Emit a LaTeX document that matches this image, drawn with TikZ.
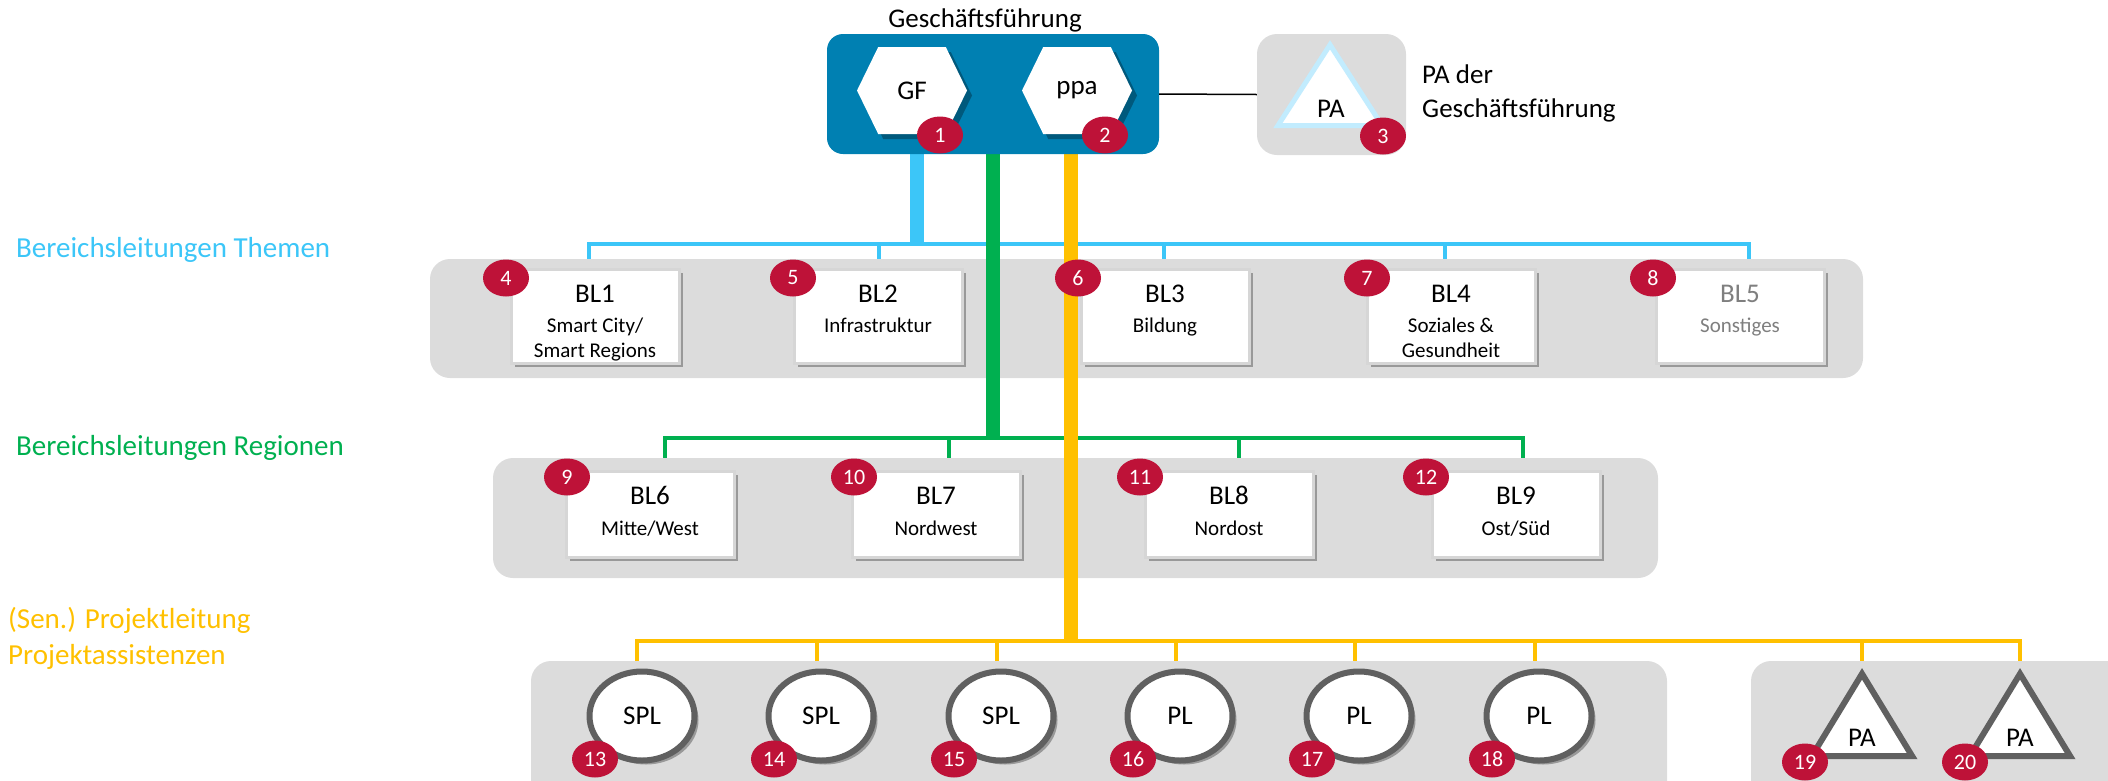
\documentclass[tikz,border=0pt]{standalone}
\usepackage{fontspec}
\setmainfont{Carlito}
\usetikzlibrary{shapes.geometric,shapes.symbols,shadows}
\definecolor{gfblue}{HTML}{0080B2}
\definecolor{cyanc}{HTML}{3CC6F8}
\definecolor{greenc}{HTML}{00B050}
\definecolor{yellowc}{HTML}{FFC000}
\definecolor{badgec}{HTML}{BE1238}
\definecolor{panel}{HTML}{DCDCDC}
\definecolor{ringc}{HTML}{606060}
\definecolor{paline}{HTML}{C2ECFE}
\definecolor{boxline}{HTML}{D6D6D6}
\definecolor{mutedtext}{HTML}{7F7F7F}
\newcommand\fsz[1]{\fontsize{#1}{#1}\selectfont}
\pgfdeclarelayer{under}\pgfdeclarelayer{bg}\pgfdeclarelayer{bars}
\pgfsetlayers{under,bg,bars,main}
\tikzset{
  panelbox/.style={fill=panel, rounded corners=20pt, inner sep=0pt},
  shad/.style={drop shadow={shadow xshift=4pt, shadow yshift=-4pt, opacity=0.3, fill=black}},
  blbox/.style={draw=boxline, line width=3pt, fill=white, minimum width=168pt, inner sep=0pt, shad},
  badge/.style={ellipse, fill=badgec, text=white, minimum width=46pt, minimum height=37pt, inner sep=0pt, font=\fsz{22}},
  hexa/.style={signal, signal to=west and east, signal pointer angle=128, fill=white, minimum width=110pt, minimum height=87pt, inner sep=0pt, font=\fsz{27}, drop shadow={shadow xshift=5pt, shadow yshift=-5pt, opacity=0.3, fill=black}},
  ringnode/.style={ellipse, draw=ringc, line width=6pt, fill=white, minimum width=105pt, minimum height=89pt, inner sep=0pt, font=\fsz{27}, shad},
  ttl/.style={anchor=base, inner sep=0pt, font=\fsz{27}},
  sub/.style={anchor=base, inner sep=0pt, font=\fsz{21}},
  lbl/.style={anchor=base west, inner sep=0pt, font=\fsz{29}},
  plain/.style={anchor=base, inner sep=0pt, font=\fsz{27}},
  tribox/.style={rectangle, inner sep=0pt},
  thin/.style={line width=4pt},
  thick/.style={line width=14pt},
}
\begin{document}
\begin{tikzpicture}[x=1pt,y=-1pt]
\useasboundingbox (0,0) rectangle (2108,780);

% ---------- top: management ----------
\node[plain] (gftitle) at (985,27) {Geschäftsführung};
\node[fill=gfblue, rounded corners=16pt, minimum width=332pt, minimum height=120pt, inner sep=0pt] (gfbox) at (993,94) {};
\node[hexa] (gf) at (912,90.5) {GF};
\node[hexa] (ppa) at (1077,90.5) {ppa};
\node[badge] (b1) at (940,135) {1};
\node[badge] (b2) at (1105,135) {2};

\node[panelbox, minimum width=149pt, minimum height=121pt] (pabox) at (1331.5,94.5) {};
\node[tribox, minimum width=104pt, minimum height=80.5pt] (patri) at (1330,85.25) {};
\fill[black, opacity=0.3, shift={(4,4)}] (patri.north) -- (patri.south east) -- (patri.south west) -- cycle;
\draw[paline, line width=5pt, fill=white] (patri.north) -- (patri.south east) -- (patri.south west) -- cycle;
\node[plain] (patxt) at (1331,117) {PA};
\node[badge] (b3) at (1383,136) {3};
\node[plain, anchor=base west] (pad1) at (1422,83) {PA der};
\node[plain, anchor=base west] (pad2) at (1422,117) {Geschäftsführung};
\draw[black, line width=1.5pt] (gfbox.east) -- (pabox.west);

% ---------- left labels ----------
\node[lbl, text=cyanc] (lab1) at (16,257) {Bereichsleitungen Themen};
\node[lbl, text=greenc] (lab2) at (16,455) {Bereichsleitungen Regionen};
\node[lbl, text=yellowc] (lab3) at (8,628) {(Sen.) Projektleitung};
\node[lbl, text=yellowc] (lab4) at (8,664) {Projektassistenzen};

% ---------- panels ----------
\begin{pgfonlayer}{bg}
\node[panelbox, minimum width=1433pt, minimum height=119pt] (row1) at (1146.5,318.5) {};
\node[panelbox, minimum width=1165pt, minimum height=120pt] (row2) at (1075.5,518) {};
\node[panelbox, minimum width=1136pt, minimum height=160pt] (row3a) at (1099,741) {};
\node[panelbox, minimum width=400pt, minimum height=160pt] (row3b) at (1951,741) {};
\end{pgfonlayer}

% ---------- row 1: Themen ----------
\node[blbox, minimum height=94pt] (bl1) at (595,316) {};
\node[blbox, minimum height=94pt] (bl2) at (878,316) {};
\node[blbox, minimum height=94pt] (bl3) at (1165,316) {};
\node[blbox, minimum height=94pt] (bl4) at (1451,316) {};
\node[blbox, minimum height=94pt] (bl5) at (1740,316) {};
\node[ttl] (t1) at ([yshift=-35pt]bl1.north) {BL1};
\node[sub] (s1a) at ([yshift=-65pt]bl1.north) {Smart City/};
\node[sub] (s1b) at ([yshift=-90pt]bl1.north) {Smart Regions};
\node[ttl] (t2) at ([yshift=-35pt]bl2.north) {BL2};
\node[sub] (s2a) at ([yshift=-65pt]bl2.north) {Infrastruktur};
\node[ttl] (t3) at ([yshift=-35pt]bl3.north) {BL3};
\node[sub] (s3a) at ([yshift=-65pt]bl3.north) {Bildung};
\node[ttl] (t4) at ([yshift=-35pt]bl4.north) {BL4};
\node[sub] (s4a) at ([yshift=-65pt]bl4.north) {Soziales \&};
\node[sub] (s4b) at ([yshift=-90pt]bl4.north) {Gesundheit};
\node[ttl, text=mutedtext] (t5) at ([yshift=-35pt]bl5.north) {BL5};
\node[sub, text=mutedtext] (s5a) at ([yshift=-65pt]bl5.north) {Sonstiges};
\node[badge] (b4) at (506,278) {4};
\node[badge] (b5) at (793,278) {5};
\node[badge] (b6) at (1078,278) {6};
\node[badge] (b7) at (1367,278) {7};
\node[badge] (b8) at (1653,278) {8};

% ---------- row 2: Regionen ----------
\node[blbox, minimum height=86pt] (bl6) at (650,514) {};
\node[blbox, minimum height=86pt] (bl7) at (936,514) {};
\node[blbox, minimum height=86pt] (bl8) at (1229,514) {};
\node[blbox, minimum height=86pt] (bl9) at (1516,514) {};
\node[ttl] (t6) at ([yshift=-35pt]bl6.north) {BL6};
\node[sub] (s6a) at ([yshift=-66pt]bl6.north) {Mitte/West};
\node[ttl] (t7) at ([yshift=-35pt]bl7.north) {BL7};
\node[sub] (s7a) at ([yshift=-66pt]bl7.north) {Nordwest};
\node[ttl] (t8) at ([yshift=-35pt]bl8.north) {BL8};
\node[sub] (s8a) at ([yshift=-66pt]bl8.north) {Nordost};
\node[ttl] (t9) at ([yshift=-35pt]bl9.north) {BL9};
\node[sub] (s9a) at ([yshift=-66pt]bl9.north) {Ost/Süd};
\node[badge] (b9) at (567,477) {9};
\node[badge] (b10) at (854,477) {10};
\node[badge] (b11) at (1140,477) {11};
\node[badge] (b12) at (1426,477) {12};

% ---------- row 3: project leads ----------
\node[ringnode] (p13) at (642,716) {SPL};
\node[ringnode] (p14) at (821,716) {SPL};
\node[ringnode] (p15) at (1001,716) {SPL};
\node[ringnode] (p16) at (1180,716) {PL};
\node[ringnode] (p17) at (1359,716) {PL};
\node[ringnode] (p18) at (1539,716) {PL};
\node[badge] (b13) at (595,759) {13};
\node[badge] (b14) at (774,759) {14};
\node[badge] (b15) at (954,759) {15};
\node[badge] (b16) at (1133,759) {16};
\node[badge] (b17) at (1312,759) {17};
\node[badge] (b18) at (1492,759) {18};

\node[tribox, minimum width=100pt, minimum height=82pt] (pa19) at (1862,715) {};
\node[tribox, minimum width=100pt, minimum height=82pt] (pa20) at (2020,715) {};
\foreach \t in {pa19,pa20}{
  \fill[black, opacity=0.3, shift={(4,4)}] (\t.north) -- (\t.south east) -- (\t.south west) -- cycle;
  \draw[ringc, line width=6pt, fill=white] (\t.north) -- (\t.south east) -- (\t.south west) -- cycle;
}
\node[plain] (pa19t) at ([yshift=-31pt]pa19.center) {PA};
\node[plain] (pa20t) at ([yshift=-31pt]pa20.center) {PA};
\node[badge] (b19) at (1805,762) {19};
\node[badge] (b20) at (1965,762) {20};

% ---------- connectors ----------
\coordinate (cj) at (917,244);
\coordinate (gj) at (993,438);
\coordinate (yj) at (1071,641);
\begin{pgfonlayer}{bars}
\draw[thick, cyanc] (cj |- gfbox.south) -- (cj);
\draw[thick, greenc] (gj |- gfbox.south) -- (gj);
\draw[thick, yellowc] (yj |- gfbox.south) -- (yj);
\end{pgfonlayer}

\begin{pgfonlayer}{under}
% row 1 bus
\coordinate (c1) at (589,244); \coordinate (c2) at (879,244); \coordinate (c3) at (1164,244);
\coordinate (c4) at (1445,244); \coordinate (c5) at (1749,244);
\draw[thin, cyanc] (c1 |- bl1.north) -- (c1) -- (c5) -- (c5 |- bl5.north);
\draw[thin, cyanc] (c2) -- (c2 |- bl2.north);
\draw[thin, cyanc] (c3) -- (c3 |- bl3.north);
\draw[thin, cyanc] (c4) -- (c4 |- bl4.north);
% row 2 bus
\coordinate (g1) at (665,438); \coordinate (g2) at (949,438);
\coordinate (g3) at (1239,438); \coordinate (g4) at (1523,438);
\draw[thin, greenc] (g1 |- bl6.north) -- (g1) -- (g4) -- (g4 |- bl9.north);
\draw[thin, greenc] (g2) -- (g2 |- bl7.north);
\draw[thin, greenc] (g3) -- (g3 |- bl8.north);
% row 3 bus
\coordinate (y1) at (637,641); \coordinate (y2) at (817,641); \coordinate (y3) at (997,641);
\coordinate (y4) at (1176,641); \coordinate (y5) at (1355,641); \coordinate (y6) at (1535,641);
\coordinate (y7) at (1862,641); \coordinate (y8) at (2020,641);
\draw[thin, yellowc] (y1 |- p13.north) -- (y1) -- (y8) -- (y8 |- pa20.north);
\draw[thin, yellowc] (y2) -- (y2 |- p14.north);
\draw[thin, yellowc] (y3) -- (y3 |- p15.north);
\draw[thin, yellowc] (y4) -- (y4 |- p16.north);
\draw[thin, yellowc] (y5) -- (y5 |- p17.north);
\draw[thin, yellowc] (y6) -- (y6 |- p18.north);
\draw[thin, yellowc] (y7) -- (y7 |- pa19.north);
\end{pgfonlayer}
\end{tikzpicture}
\end{document}
